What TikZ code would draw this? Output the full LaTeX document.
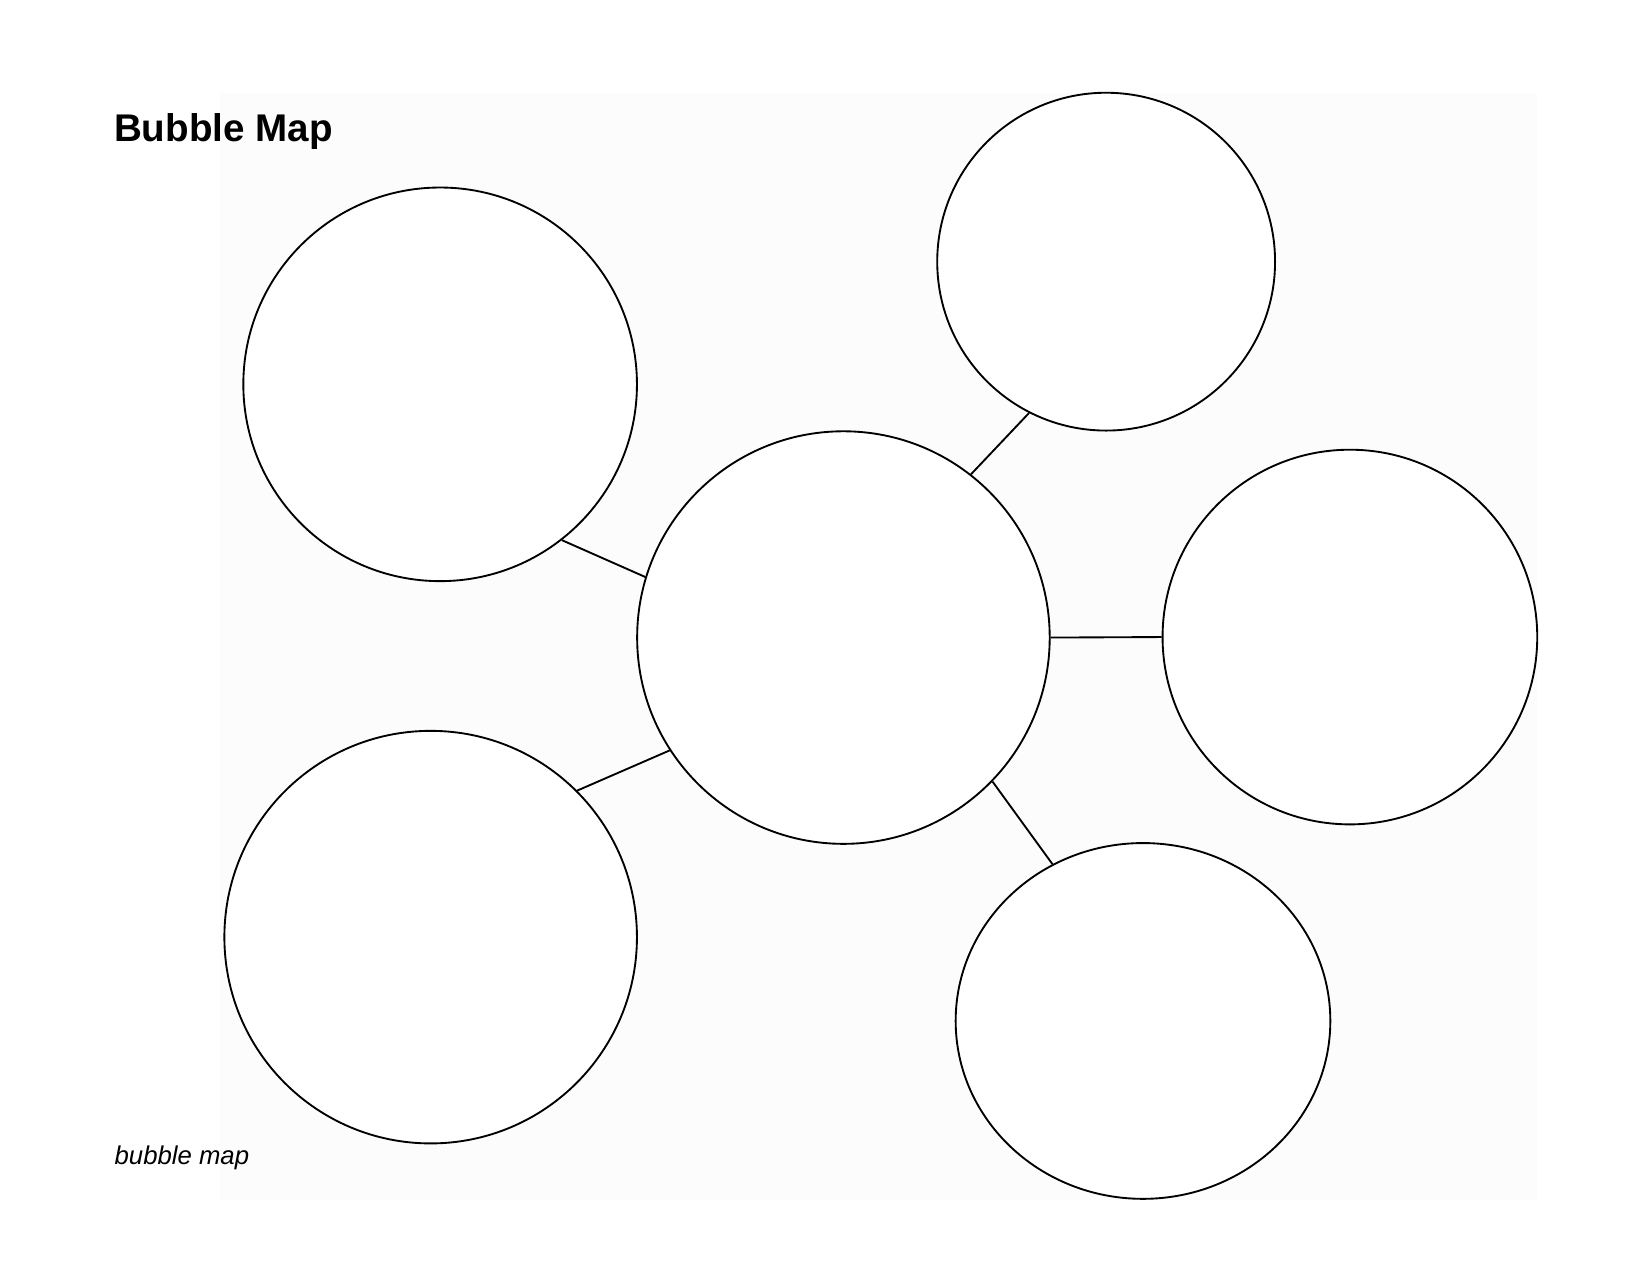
\documentclass[tikz,border=0pt]{standalone}
\usepackage{fontspec}
\setmainfont{Liberation Sans}
\usetikzlibrary{shapes.geometric}

\begin{document}
\begin{tikzpicture}[x=0.01783cm,y=-0.01783cm]
    \useasboundingbox (0,0) rectangle (1567,1211);
    \fill[black!1] (209,88) rectangle (1460,1140);

    \node[anchor=base west,inner sep=0pt,font=\bfseries\fontsize{18.6}{22}\selectfont] (title) at (108,134.5) {Bubble Map};
    \node[anchor=base west,inner sep=0pt,font=\itshape\fontsize{12.4}{14}\selectfont] (caption) at (108.5,1105.5) {bubble map};

        \begin{scope}[every node/.style={circle,draw,line width=0.9pt,fill=white,inner sep=0pt}]
            \node[minimum size=6.989cm] (c) at (801,605.5) {};
            \node[minimum size=6.668cm] (tl) at (418,365) {};
            \node[minimum size=5.723cm] (tr) at (1050.5,248.5) {};
            \node[minimum size=6.347cm] (r) at (1282,605) {};
            \node[ellipse,minimum width=6.347cm,minimum height=6.027cm] (br) at (1085.5,969.6) {};
            \node[minimum size=6.989cm] (bl) at (409,890) {};
        \end{scope}

        \begin{scope}[every edge/.style={draw=black,line width=0.9pt}]
            \path (tl.-52.7) edge (c.163);
            \path (bl.45) edge (c.213.5);
            \path (tr.243.4) edge (c.52.1);
            \path (c.east) edge (r.west);
            \path (br.120.6) edge (c.-44.5);
        \end{scope}

\end{tikzpicture}
\end{document}
